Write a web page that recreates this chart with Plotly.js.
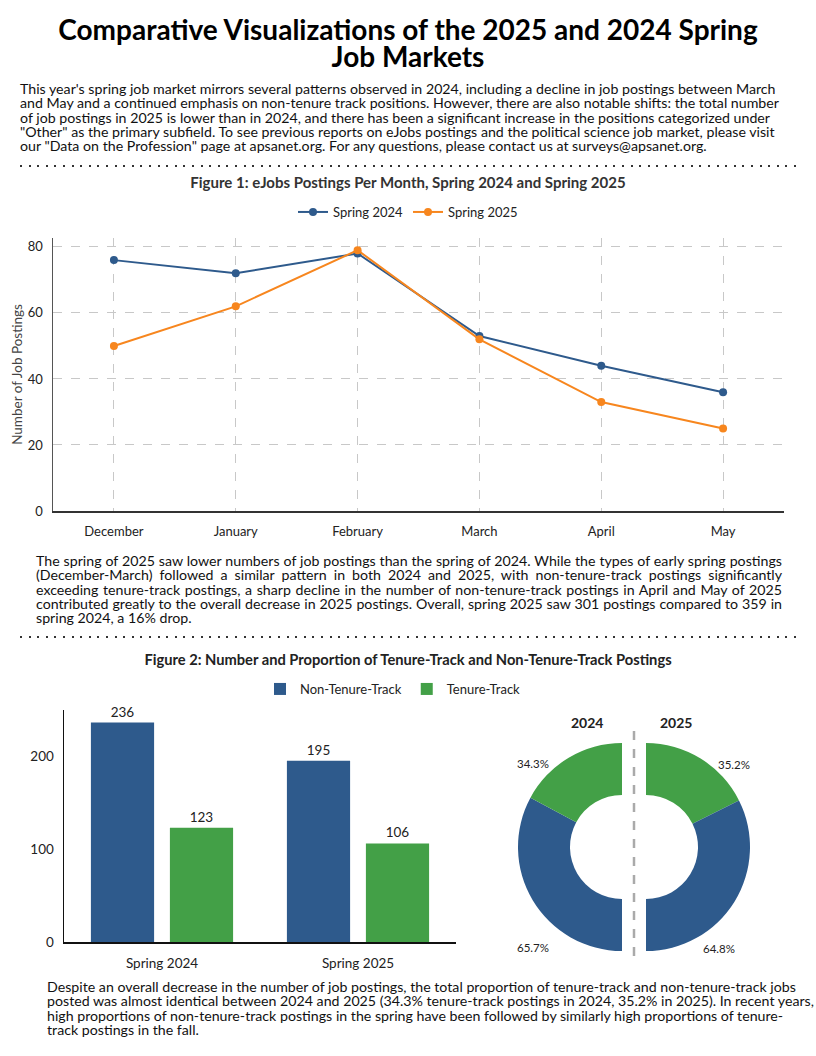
<!DOCTYPE html>
<html><head><meta charset="utf-8">
<script src="https://cdn.plot.ly/plotly-3.0.1.min.js"></script>
<style>
body{margin:0;width:816px;height:1056px;position:relative;background:#fff;font-family:Lato,'Open Sans',sans-serif;color:#111;overflow:hidden}
.abs{position:absolute}
#title{left:0;width:816px;top:16px;text-align:center;font-weight:700;font-size:28px;line-height:27px;color:#000}
.p{font-size:14.2px;line-height:14.3px;white-space:nowrap;color:#111}
.j{text-align:justify;text-align-last:justify;white-space:nowrap}
.sep{height:2px;background:repeating-linear-gradient(to right,#333 0 2px,transparent 2px 8.6px)}
</style></head>
<body>
<div id="title" class="abs">Comparative Visualizations of the 2025 and 2024 Spring<br>Job Markets</div>
<div class="abs p" style="left:20px;top:82px;">This year's spring job market mirrors several patterns observed in 2024, including a decline in job postings between March<br>and May and a continued emphasis on non-tenure track positions. However, there are also notable shifts: the total number<br>of job postings in 2025 is lower than in 2024, and there has been a significant increase in the positions categorized under<br>"Other" as the primary subfield. To see previous reports on eJobs postings and the political science job market, please visit<br>our "Data on the Profession" page at apsanet.org. For any questions, please contact us at surveys@apsanet.org.</div>
<div class="abs sep" style="left:20px;width:780px;top:165px;"></div>
<div id="fig1" class="abs" style="left:0;top:170px;width:816px;height:380px;"></div>
<div class="abs p" style="left:36px;top:554px;width:746px;">
<div class="j">The spring of 2025 saw lower numbers of job postings than the spring of 2024. While the types of early spring postings</div>
<div class="j">(December-March) followed a similar pattern in both 2024 and 2025, with non-tenure-track postings significantly</div>
<div class="j">exceeding tenure-track postings, a sharp decline in the number of non-tenure-track postings in April and May of 2025</div>
<div class="j">contributed greatly to the overall decrease in 2025 postings. Overall, spring 2025 saw 301 postings compared to 359 in</div>
<div>spring 2024, a 16% drop.</div>
</div>
<div class="abs sep" style="left:20px;width:780px;top:636px;"></div>
<div id="fig2" class="abs" style="left:0;top:640px;width:816px;height:340px;"></div>
<div class="abs p" style="left:47px;top:980px;">Despite an overall decrease in the number of job postings, the total proportion of tenure-track and non-tenure-track jobs<br>posted was almost identical between 2024 and 2025 (34.3% tenure-track postings in 2024, 35.2% in 2025). In recent years,<br>high proportions of non-tenure-track postings in the spring have been followed by similarly high proportions of tenure-<br>track postings in the fall.</div>
<script>
// ---- data ----
const months = ['December','January','February','March','April','May'];
const spring2024 = [76, 72, 78, 53, 44, 36];
const spring2025 = [50, 62, 79, 52, 33, 25];
const seasons = ['Spring 2024','Spring 2025'];
const nonTenure = [236, 195];
const tenure = [123, 106];
const yTicks1 = [0, 20, 40, 60, 80];
const yTicks2 = [0, 100, 200];

const FONT = 'Lato, Open Sans, sans-serif';
const BLUE = '#2e5a8c', ORANGE = '#f7861e', GREEN = '#43a047', NONE = 'rgba(0,0,0,0)';

// ---- figure 1 ----
const H1 = 380;
Plotly.newPlot('fig1', [
  {x: months, y: spring2024, name: 'Spring 2024', type: 'scatter', mode: 'lines+markers',
   line: {color: BLUE, width: 2}, marker: {color: BLUE, size: 8}},
  {x: months, y: spring2025, name: 'Spring 2025', type: 'scatter', mode: 'lines+markers',
   line: {color: ORANGE, width: 2}, marker: {color: ORANGE, size: 8}}
], {
  width: 816, height: H1,
  margin: {l: 53, r: 32, t: 68, b: 39},
  paper_bgcolor: '#fff', plot_bgcolor: '#fff',
  font: {family: FONT, size: 13, color: '#222'},
  title: {text: 'Figure 1: eJobs Postings Per Month, Spring 2024 and Spring 2025',
          font: {family: FONT, size: 15, color: '#333', weight: 700},
          x: 0.5, xref: 'container', xanchor: 'center', y: 1 - 13 / H1, yref: 'container', yanchor: 'middle'},
  showlegend: true,
  legend: {orientation: 'h', x: 0.5, xref: 'container', xanchor: 'center', y: 1 - 42 / H1, yref: 'container', yanchor: 'middle',
           font: {family: FONT, size: 13, color: '#222'}},
  xaxis: {type: 'category', range: [-0.5, 5.5], showgrid: true, gridcolor: '#c8c8c8', griddash: 'dash', gridwidth: 1,
          showline: true, linecolor: '#333', linewidth: 1.5, ticks: '', ticklabelstandoff: 8, fixedrange: true,
          zeroline: false},
  yaxis: {range: [0, 82.7], tickvals: yTicks1, showgrid: true, gridcolor: '#c8c8c8', griddash: 'dash', gridwidth: 1,
          showline: true, linecolor: '#555', linewidth: 1.5, ticks: '', ticklabelstandoff: 6, zeroline: false,
          title: {text: 'Number of Job Postings', font: {family: FONT, size: 13.5, color: '#444'}, standoff: 2}}
}, {staticPlot: true});

// ---- figure 2 ----
const W2 = 816, H2 = 340, T2 = 640;
const px = x => x / W2;
const py = y => 1 - (y - T2) / H2;
const pct = (a, b) => (a / (a + b) * 100).toFixed(1) + '%';
const tot24 = nonTenure[0] + tenure[0], tot25 = nonTenure[1] + tenure[1];
const ann = (text, x, y, size) => ({text: text, x: px(x), y: py(y), xref: 'paper', yref: 'paper',
  xanchor: 'center', yanchor: 'middle', showarrow: false, font: {family: FONT, size: size, color: '#222'}});

Plotly.newPlot('fig2', [
  {x: seasons, y: nonTenure, name: 'Non-Tenure-Track', type: 'bar', marker: {color: BLUE},
   text: nonTenure.map(String), textposition: 'outside', cliponaxis: false,
   textfont: {family: FONT, size: 13.5, color: '#222'}},
  {x: seasons, y: tenure, name: 'Tenure-Track', type: 'bar', marker: {color: GREEN},
   text: tenure.map(String), textposition: 'outside', cliponaxis: false,
   textfont: {family: FONT, size: 13.5, color: '#222'}},
  // 2024: left half (clockwise from 12 o'clock: hidden right half, then non-tenure, then tenure)
  {type: 'pie', labels: ['hidden', 'Non-Tenure-Track', 'Tenure-Track'], values: [tot24, nonTenure[0], tenure[0]],
   sort: false, direction: 'clockwise', rotation: 0,
   hole: 0.5, marker: {colors: [NONE, BLUE, GREEN], line: {width: 0}}, textinfo: 'none', showlegend: false,
   domain: {x: [px(518), px(726)], y: [py(951), py(743)]}},
  // 2025: right half (clockwise from 12 o'clock: tenure, non-tenure, hidden left half)
  {type: 'pie', labels: ['Tenure-Track', 'Non-Tenure-Track', 'hidden'], values: [tenure[1], nonTenure[1], tot25],
   sort: false, direction: 'clockwise', rotation: 0,
   hole: 0.5, marker: {colors: [GREEN, BLUE, NONE], line: {width: 0}}, textinfo: 'none', showlegend: false,
   domain: {x: [px(542), px(750)], y: [py(951), py(743)]}}
], {
  width: W2, height: H2,
  margin: {l: 0, r: 0, t: 0, b: 0, autoexpand: false},
  paper_bgcolor: 'rgba(0,0,0,0)', plot_bgcolor: 'rgba(0,0,0,0)',
  font: {family: FONT, size: 13.5, color: '#222'},
  barmode: 'group', bargap: 0.194, bargroupgap: 0.2,
  title: {text: 'Figure 2: Number and Proportion of Tenure-Track and Non-Tenure-Track Postings',
          font: {family: FONT, size: 14.7, color: '#222', weight: 700},
          x: 0.5, xref: 'paper', xanchor: 'center', y: py(660), yref: 'paper', yanchor: 'middle'},
  showlegend: true,
  legend: {orientation: 'h', x: px(393), xref: 'paper', xanchor: 'center', y: py(689), yref: 'paper', yanchor: 'middle',
           font: {family: FONT, size: 13, color: '#222'}, traceorder: 'normal'},
  xaxis: {type: 'category', domain: [px(64), px(456)], range: [-0.5, 1.5], showgrid: false, showline: true,
          linecolor: '#111', linewidth: 1.5, ticks: '', ticklabelstandoff: 8, zeroline: false, automargin: false},
  yaxis: {domain: [py(942), py(710)], range: [0, 249.5], tickvals: yTicks2, showgrid: false, showline: true,
          linecolor: '#111', linewidth: 1.5, ticks: '', ticklabelstandoff: 6, zeroline: false, automargin: false},
  shapes: [{type: 'line', xref: 'paper', yref: 'paper', x0: px(634), x1: px(634), y0: py(731), y1: py(964),
            line: {color: '#aaa', width: 2.5, dash: 'dash'}}],
  annotations: [
    ann('<b>2024</b>', 587, 722, 14),
    ann('<b>2025</b>', 676, 722, 14),
    ann(pct(tenure[0], nonTenure[0]), 533, 763, 11.5),
    ann(pct(nonTenure[0], tenure[0]), 533, 947, 11.5),
    ann(pct(tenure[1], nonTenure[1]), 734, 764, 11.5),
    ann(pct(nonTenure[1], tenure[1]), 719, 948, 11.5)
  ]
}, {staticPlot: true});
</script>
</body></html>
